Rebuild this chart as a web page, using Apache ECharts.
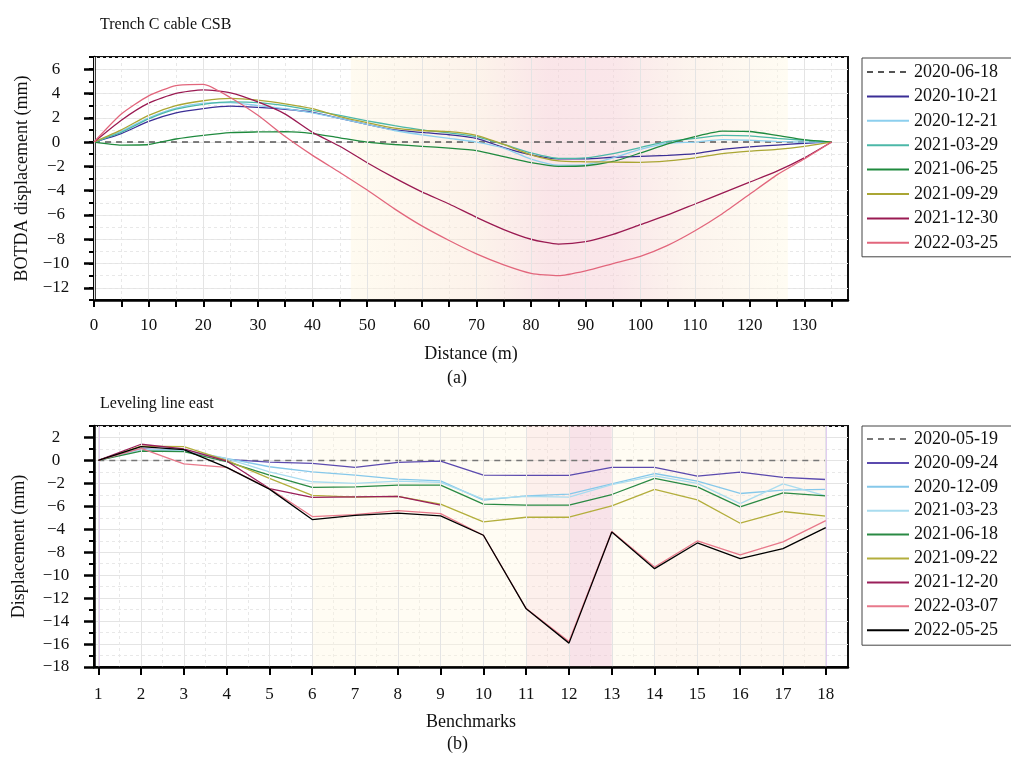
<!DOCTYPE html>
<html><head><meta charset="utf-8">
<script src="https://cdn.jsdelivr.net/npm/echarts@6/dist/echarts.min.js"></script>
<style>html,body{margin:0;padding:0;background:#fff}#c{width:1011px;height:757px}</style>
</head><body><div id="c"></div>
<script>
// ---------- (a) Trench C cable CSB ----------
const distance = [0,5,10,15,20,25,30,35,40,45,50,55,60,65,70,75,80,85,90,95,100,105,110,115,120,125,130,135];
const topNames = ['2020-06-18','2020-10-21','2020-12-21','2021-03-29','2021-06-25','2021-09-29','2021-12-30','2022-03-25'];
const a20200618 = [0,0,0,0,0,0,0,0,0,0,0,0,0,0,0,0,0,0,0,0,0,0,0,0,0,0,0,0];
const a20201021 = [0,0.7,1.7,2.4,2.75,2.95,2.85,2.7,2.45,1.95,1.45,1.0,0.8,0.6,0.3,-0.45,-1.05,-1.38,-1.38,-1.25,-1.18,-1.1,-0.95,-0.6,-0.4,-0.25,-0.1,0];
const a20201221 = [0,0.9,2.0,2.8,3.2,3.25,3.0,2.75,2.4,1.95,1.45,0.95,0.6,0.3,0.0,-0.5,-1.4,-1.9,-1.85,-1.3,-0.6,-0.1,0.0,0.2,0.15,0.05,0.0,0];
const a20210329 = [0,0.8,1.9,2.7,3.1,3.3,3.25,3.0,2.6,2.2,1.75,1.35,1.0,0.75,0.45,-0.2,-0.9,-1.35,-1.3,-0.95,-0.45,0.05,0.3,0.55,0.5,0.3,0.15,0];
const a20210625 = [0,-0.25,-0.2,0.25,0.55,0.78,0.83,0.85,0.7,0.35,0.0,-0.2,-0.35,-0.5,-0.7,-1.2,-1.7,-2.0,-1.95,-1.6,-0.9,-0.15,0.45,0.9,0.87,0.55,0.2,0];
const a20210929 = [0,1.0,2.2,3.0,3.4,3.6,3.45,3.15,2.75,2.1,1.6,1.15,0.95,0.85,0.55,-0.2,-1.05,-1.55,-1.62,-1.65,-1.67,-1.55,-1.3,-0.95,-0.75,-0.6,-0.35,0];
const a20211230 = [0,1.8,3.2,4.0,4.3,4.05,3.3,2.3,0.8,-0.35,-1.7,-2.95,-4.1,-5.1,-6.2,-7.2,-8.0,-8.4,-8.2,-7.6,-6.8,-6.0,-5.1,-4.2,-3.3,-2.4,-1.3,0];
const a20220325 = [0,2.3,3.8,4.65,4.75,3.65,2.2,0.45,-1.1,-2.5,-3.95,-5.5,-6.9,-8.1,-9.2,-10.1,-10.8,-11.0,-10.6,-10.0,-9.4,-8.5,-7.3,-5.9,-4.3,-2.7,-1.4,0];
const topValues = [a20200618,a20201021,a20201221,a20210329,a20210625,a20210929,a20211230,a20220325];
const topXTickValues = [0,10,20,30,40,50,60,70,80,90,100,110,120,130];
const topXMinorValues = [5,15,25,35,45,55,65,75,85,95,105,115,125,135];
const topYTickValues = [-12,-10,-8,-6,-4,-2,0,2,4,6];
const topYTickLabels = ['\u221212','\u221210','\u22128','\u22126','\u22124','\u22122','0','2','4','6'];
const topShadeRange = [47, 127];

// ---------- (b) Leveling line east ----------
const benchmarks = [1,2,3,4,5,6,7,8,9,10,11,12,13,14,15,16,17,18];
const botNames = ['2020-05-19','2020-09-24','2020-12-09','2021-03-23','2021-06-18','2021-09-22','2021-12-20','2022-03-07','2022-05-25'];
const b20200519 = [0,0,0,0,0,0,0,0,0,0,0,0,0,0,0,0,0,0];
const b20200924 = [0,1.0,0.85,0.1,-0.15,-0.25,-0.61,-0.17,-0.06,-1.28,-1.31,-1.31,-0.61,-0.61,-1.37,-1.02,-1.48,-1.66];
const b20201209 = [0,0.97,0.9,0.18,-0.55,-0.99,-1.28,-1.63,-1.78,-3.46,-3.09,-2.94,-2.04,-1.14,-1.8,-2.88,-2.59,-2.53];
const b20210323 = [0,0.95,0.85,0.15,-1.0,-1.86,-2.0,-1.8,-1.92,-3.38,-3.14,-3.2,-2.1,-1.34,-2.0,-3.76,-2.04,-3.09];
const b20210618 = [0,0.82,0.76,-0.1,-1.28,-2.35,-2.3,-2.15,-2.15,-3.81,-3.9,-3.9,-2.97,-1.57,-2.3,-4.05,-2.82,-3.09];
const b20210922 = [0,1.25,1.2,0,-1.57,-3.05,-3.2,-3.14,-3.81,-5.36,-4.95,-4.95,-3.96,-2.53,-3.44,-5.47,-4.45,-4.86];
const b20211220 = [0,1.41,1.0,-0.05,-2.45,-3.22,-3.17,-3.14,-3.9];
const b20220307 = [0,1.05,-0.3,-0.6,-2.45,-4.89,-4.72,-4.37,-4.63,-6.52,-12.9,-15.78,-6.2,-9.29,-7.02,-8.24,-7.1,-5.24];
const b20220525 = [0,1.2,0.95,-0.6,-2.5,-5.15,-4.78,-4.6,-4.83,-6.52,-12.93,-15.92,-6.23,-9.43,-7.19,-8.56,-7.69,-5.85];
const botValues = [b20200519,b20200924,b20201209,b20210323,b20210618,b20210922,b20211220,b20220307,b20220525];
const botYTickValues = [2,0,-2,-4,-6,-8,-10,-12,-14,-16,-18];
const botYTickLabels = ['2','0','\u22122','\u22126','\u22124','\u22128','\u221210','\u221212','\u221214','\u221216','\u221218'];
const botYMinorValues = [3,1,-1,-3,-5,-7,-9,-11,-13,-15,-17];
const botXHalf = [1.5,2.5,3.5,4.5,5.5,6.5,7.5,8.5,9.5,10.5,11.5,12.5,13.5,14.5,15.5,16.5,17.5];
const botShades = [[6,11],[11,12],[12,13],[13,14],[14,18]];
const botEdgeLines = [1, 18];

// ---------- styles ----------
const FONT = 'Liberation Serif, "Times New Roman", serif';
const topColors = ['#555555','#3b2e96','#8ccfee','#4cb8a8','#1f8a3e','#aaa634','#9a1a52','#e2667c'];
const botColors = ['#777777','#5b4aae','#86c8ea','#a9dcef','#2a8a44','#b3ae3c','#9a1f5a','#e8798b','#000000'];
const shadeColors = ['rgba(255,247,225,0.4)','rgba(250,222,212,0.45)','rgba(242,200,212,0.5)','rgba(255,247,225,0.4)','rgba(252,238,220,0.45)'];

const chart = echarts.init(document.getElementById('c'), null, {renderer:'canvas'});

function mkSeries(names, values, xs, colors, axisIdx, extraFirst) {
  return names.map((n, i) => {
    const s = {
      name: n, type: 'line', xAxisIndex: axisIdx, yAxisIndex: axisIdx,
      data: values[i].map((v, k) => [xs[k], v]),
      symbol: 'none', smooth: axisIdx === 0 ? 0.2 : false,
      lineStyle: { color: colors[i], width: 1.3, type: i === 0 ? [6, 5] : 'solid' },
      itemStyle: { color: colors[i] },
      z: 3 + i
    };
    if (i === 0) { s.lineStyle.width = 1.6; Object.assign(s, extraFirst); }
    return s;
  });
}

const topShade = {
  markArea: {
    silent: true,
    itemStyle: {
      color: new echarts.graphic.LinearGradient(0, 0, 1, 0, [
        {offset: 0, color: 'rgba(255,247,226,0.5)'},
        {offset: 0.3, color: 'rgba(250,230,214,0.5)'},
        {offset: 0.45, color: 'rgba(246,208,214,0.55)'},
        {offset: 0.6, color: 'rgba(246,210,216,0.55)'},
        {offset: 0.77, color: 'rgba(250,232,220,0.5)'},
        {offset: 1, color: 'rgba(255,249,228,0.45)'}
      ])
    },
    data: [[{xAxis: topShadeRange[0]}, {xAxis: topShadeRange[1]}]]
  }
};
const botShade = {
  markArea: {
    silent: true,
    data: botShades.map((r, i) => [{xAxis: r[0], itemStyle: {color: shadeColors[i]}}, {xAxis: r[1]}])
  },
  markLine: {
    silent: true, symbol: 'none', label: {show: false},
    lineStyle: {color: '#d8bcec', type: 'solid', width: 1.5},
    data: botEdgeLines.map(v => ({xAxis: v}))
  }
};

const axisText = {fontFamily: FONT, fontSize: 17, color: '#111'};
const nameText = {fontFamily: FONT, fontSize: 18, color: '#111'};
const gridLine = {show: true, lineStyle: {color: '#e4e4e4', width: 1}};
const gridDash = {show: true, lineStyle: {color: '#e8e8e8', width: 1, type: [3, 3]}};
const legendBase = {
  orient: 'vertical', itemWidth: 42, itemHeight: 14,
  borderColor: '#444', borderWidth: 1,
  itemStyle: {opacity: 0, borderWidth: 0},
  textStyle: {fontFamily: FONT, fontSize: 18, color: '#111'}
};

const option = {
  animation: false,
  backgroundColor: '#fff',
  title: [
    {text: 'Trench C cable CSB', left: 95, top: 12, textStyle: {fontFamily: FONT, fontSize: 16, fontWeight: 'normal', color: '#111'}},
    {text: 'Leveling line east', left: 95, top: 391, textStyle: {fontFamily: FONT, fontSize: 16, fontWeight: 'normal', color: '#111'}}
  ],
  graphic: [
    {type: 'text', left: 447, top: 369, style: {text: '(a)', font: '18px ' + FONT, fill: '#111'}},
    {type: 'text', left: 447, top: 735, style: {text: '(b)', font: '18px ' + FONT, fill: '#111'}}
  ],
  legend: [
    Object.assign({data: topNames, left: 862, top: 58, itemGap: 6.4, padding: [5, 60, 5, 4]}, legendBase),
    Object.assign({data: botNames, left: 862, top: 426, itemGap: 5.9, padding: [4, 60, 6, 4]}, legendBase)
  ],
  grid: [
    {left: 94, top: 57, width: 754, height: 243, show: true, borderColor: '#111', borderWidth: 2, backgroundColor: 'transparent'},
    {left: 94, top: 426, width: 754, height: 241, show: true, borderColor: '#111', borderWidth: 2, backgroundColor: 'transparent'}
  ],
  xAxis: [
    {gridIndex: 0, type: 'value', position: 'bottom', min: 0, max: 138, z: 10,
     name: 'Distance (m)', nameLocation: 'middle', nameGap: 45, nameTextStyle: nameText,
     axisLine: {show: true, onZero: false, lineStyle: {color: '#000', width: 2.5}},
     axisTick: {show: true, inside: false, length: 7, customValues: topXTickValues, lineStyle: {color: '#000', width: 2}},
     axisLabel: Object.assign({margin: 17, customValues: topXTickValues}, axisText),
     splitLine: gridLine},
    {gridIndex: 0, type: 'value', position: 'bottom', offset: 0, min: 0, max: 138,
     axisLine: {show: false, onZero: false}, axisLabel: {show: false},
     axisTick: {show: true, length: 7, customValues: topXMinorValues, lineStyle: {color: '#000', width: 2}},
     splitLine: gridDash},
    {gridIndex: 1, type: 'value', position: 'bottom', min: 0.9, max: 18.52, z: 10,
     name: 'Benchmarks', nameLocation: 'middle', nameGap: 46, nameTextStyle: nameText,
     axisLine: {show: true, onZero: false, lineStyle: {color: '#000', width: 2.5}},
     axisTick: {show: true, length: 8, customValues: benchmarks, lineStyle: {color: '#000', width: 2}},
     axisLabel: Object.assign({margin: 19, customValues: benchmarks}, axisText),
     splitLine: gridLine},
    {gridIndex: 1, type: 'value', position: 'bottom', offset: 0, min: 0.9, max: 18.52,
     axisLine: {show: false, onZero: false}, axisLabel: {show: false},
     axisTick: {show: false, customValues: botXHalf},
     splitLine: gridDash}
  ],
  yAxis: [
    {gridIndex: 0, type: 'value', position: 'left', min: -13, max: 7,
     name: 'BOTDA displacement (mm)', nameLocation: 'middle', nameGap: 63, nameTextStyle: nameText,
     axisLine: {show: true, onZero: false, lineStyle: {color: '#000', width: 2.5}},
     axisTick: {show: true, length: 10, customValues: topYTickValues, lineStyle: {color: '#000', width: 2.5}},
     axisLabel: Object.assign({margin: 38, align: 'center', customValues: topYTickValues,
       formatter: v => { const i = topYTickValues.indexOf(v); return i >= 0 ? topYTickLabels[i] : ''; }}, axisText),
     splitLine: gridLine},
    {gridIndex: 0, type: 'value', position: 'left', offset: 0, min: -13, max: 7, interval: 1,
     axisLine: {show: false, onZero: false}, axisLabel: {show: false},
     axisTick: {show: true, length: 5, lineStyle: {color: '#000', width: 2}},
     splitLine: gridDash},
    {gridIndex: 1, type: 'value', position: 'left', min: -18, max: 3,
     name: 'Displacement (mm)', nameLocation: 'middle', nameGap: 66, nameTextStyle: nameText,
     axisLine: {show: true, onZero: false, lineStyle: {color: '#000', width: 2.5}},
     axisTick: {show: true, length: 10, customValues: botYTickValues, lineStyle: {color: '#000', width: 2.5}},
     axisLabel: Object.assign({margin: 38, align: 'center', customValues: botYTickValues,
       formatter: v => { const i = botYTickValues.indexOf(v); return i >= 0 ? botYTickLabels[i] : ''; }}, axisText),
     splitLine: gridLine},
    {gridIndex: 1, type: 'value', position: 'left', offset: 0, min: -18, max: 3,
     axisLine: {show: false, onZero: false}, axisLabel: {show: false},
     axisTick: {show: true, length: 5, customValues: botYMinorValues, lineStyle: {color: '#000', width: 2}},
     splitLine: gridDash}
  ],
  series: []
};

const topSeries = mkSeries(topNames, topValues, distance, topColors, 0, topShade);
const botSeries = mkSeries(botNames, botValues, benchmarks, botColors, 2, botShade);
option.series = topSeries.concat(botSeries);
chart.setOption(option);
</script></body></html>
